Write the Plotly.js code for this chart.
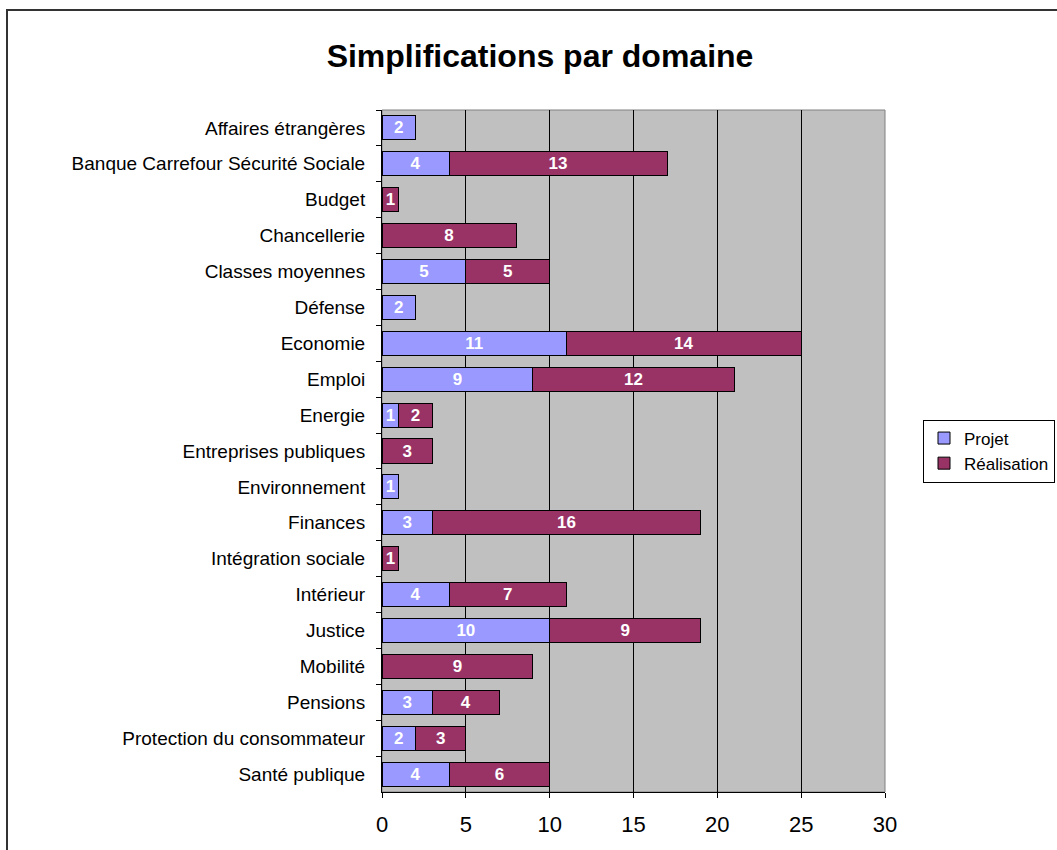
<!DOCTYPE html>
<html><head><meta charset="utf-8">
<script src="https://cdn.plot.ly/plotly-3.0.1.min.js"></script>
<style>html,body{margin:0;padding:0;background:#fff;}#chart{width:1057px;height:850px;}</style>
</head><body><div id="chart"></div>
<script>
const categories = ["Affaires étrangères","Banque Carrefour Sécurité Sociale","Budget","Chancellerie","Classes moyennes","Défense","Economie","Emploi","Energie","Entreprises publiques","Environnement","Finances","Intégration sociale","Intérieur","Justice","Mobilité","Pensions","Protection du consommateur","Santé publique"];
const projet =      [2, 4, null, null, 5, 2, 11, 9, 1, null, 1, 3, null, 4, 10, null, 3, 2, 4];
const realisation = [null, 13, 1, 8, 5, null, 14, 12, 2, 3, null, 16, 1, 7, 9, 9, 4, 3, 6];
const seriesNames = ["Projet", "Réalisation"];
const xTicks = [0, 5, 10, 15, 20, 25, 30];

const FONT = "Arial, 'Liberation Sans', sans-serif";
function mk(name, vals, color){
  return {type:'bar', orientation:'h', name:name, y:categories, x:vals,
    marker:{color:color, line:{color:'#000', width:1}},
    text:vals.map(v=>v==null?'':String(v)), textposition:'inside', insidetextanchor:'middle',
    constraintext:'none', textangle:0,
    textfont:{family:FONT, size:17, color:'#fff', weight:'bold'}, hoverinfo:'x+y'};
}
const data = [mk(seriesNames[0], projet, '#9999FF'), mk(seriesNames[1], realisation, '#993366')];
const L=382, R=885, T=110, B=792;
const pw=R-L, ph=B-T;
const layout = {
  width:1057, height:850, barmode:'stack', bargap:0.33,
  margin:{l:L, r:1057-R, t:T, b:850-B, pad:0, autoexpand:false},
  paper_bgcolor:'#fff', plot_bgcolor:'#C0C0C0',
  font:{family:FONT, color:'#000'},
  title:{text:'<b>Simplifications par domaine</b>', font:{family:FONT, size:32, color:'#000'}, x:(540)/1057, xanchor:'center', y:1-56/850, yanchor:'middle'},
  xaxis:{range:[0,30], tickvals:xTicks, ticktext:xTicks.map(String), showgrid:true, gridcolor:'#000', gridwidth:1,
    ticks:'outside', ticklen:5, tickcolor:'#000', showline:true, linecolor:'#000', linewidth:1, ticklabelstandoff:8,
    tickfont:{family:FONT, size:22, color:'#000'}, zeroline:false, fixedrange:true, automargin:false},
  yaxis:{type:'category', autorange:'reversed', ticks:'outside', tickson:'boundaries', ticklen:5, tickcolor:'#000',
    showline:true, linecolor:'#000', linewidth:1, showgrid:false, tickfont:{family:FONT, size:19, color:'#000'}, ticklabelstandoff:12, automargin:false},
  legend:{x:(923-L)/pw, xanchor:'left', y:0.5, yanchor:'middle', bordercolor:'#000', borderwidth:1, bgcolor:'#fff',
    font:{family:FONT, size:17, color:'#000'}, traceorder:'normal', itemwidth:30},
  showlegend:true,
  shapes:[
    {type:'rect', xref:'paper', yref:'paper', x0:0, x1:1, y0:0, y1:1, line:{color:'#808080', width:1}, layer:'below'},
    {type:'rect', xref:'paper', yref:'paper', x0:(7-L)/pw, x1:(1070-L)/pw, y0:(B-10)/ph, y1:(B-870)/ph, line:{color:'#333', width:2}}
  ]
};
Plotly.newPlot('chart', data, layout, {displayModeBar:false, staticPlot:true});
</script></body></html>
